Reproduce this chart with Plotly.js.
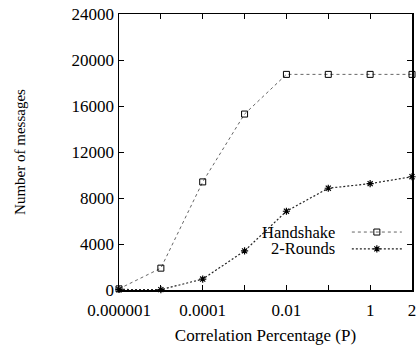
<!DOCTYPE html>
<html>
<head>
<meta charset="utf-8">
<script src="https://cdn.plot.ly/plotly-3.0.1.min.js"></script>
<style>html,body{margin:0;padding:0;background:#fff;}#chart{width:419px;height:346px;}</style>
</head>
<body>
<div id="chart"></div>
<script>
var categories = ["0.000001", "0.00001", "0.0001", "0.001", "0.01", "0.1", "1", "2"];
var tickLabels = ["0.000001", "", "0.0001", "", "0.01", "", "1", "2"];
var handshake = [100, 1900, 9400, 15300, 18750, 18750, 18750, 18750];
var twoRounds = [50, 30, 950, 3400, 6850, 8850, 9250, 9850];
var seriesNames = ["Handshake", "2-Rounds"];

var idx = categories.map(function (c, i) { return i; });
var tv = [], tt = [];
tickLabels.forEach(function (t, i) { tv.push(i); tt.push(t); });

var FAM = "Liberation Serif";
function f(size) { return {family: FAM, size: size, color: "#000"}; }

var traces = [
  {
    x: idx, y: handshake, type: "scatter", mode: "lines+markers", name: " ", legend: "legend",
    line: {color: "#666", width: 1, dash: "dot"},
    marker: {symbol: "square-open", size: 6, color: "#000", line: {width: 1, color: "#000"}},
    cliponaxis: false
  },
  {
    x: idx, y: twoRounds, type: "scatter", mode: "lines+markers", name: " ", legend: "legend2",
    line: {color: "#222", width: 1.2, dash: "2px,2px"},
    marker: {symbol: "asterisk-open", size: 6, color: "#000", line: {width: 1.2, color: "#000"}},
    cliponaxis: false
  }
];

var legBase = {
  x: 0.775, xanchor: "left", yanchor: "middle",
  bgcolor: "rgba(0,0,0,0)", borderwidth: 0, font: f(6), itemwidth: 50
};
var leg1 = Object.assign({}, legBase, {y: 0.21});
var leg2 = Object.assign({}, legBase, {y: 0.149});

var layout = {
  width: 419, height: 346,
  margin: {l: 119, r: 6, t: 14, b: 56},
  paper_bgcolor: "#fff", plot_bgcolor: "#fff",
  font: f(17),
  showlegend: true,
  legend: leg1,
  legend2: leg2,
  annotations: [
    {text: seriesNames[0], xref: "paper", yref: "paper", x: 0.745, y: 0.21, xanchor: "right", yanchor: "middle", showarrow: false, font: f(16.5)},
    {text: seriesNames[1], xref: "paper", yref: "paper", x: 0.745, y: 0.149, xanchor: "right", yanchor: "middle", showarrow: false, font: f(16.5)}
  ],
  xaxis: {
    range: [0, 7], tickmode: "array", tickvals: tv, ticktext: tt,
    ticks: "inside", ticklen: 5, tickwidth: 1, tickcolor: "#000",
    showline: true, linecolor: "#000", linewidth: 1.5, mirror: "ticks",
    showgrid: false, zeroline: false, ticklabelstandoff: 4,
    title: {text: "Correlation Percentage (P)", font: f(17), standoff: 10},
    tickfont: f(17)
  },
  yaxis: {
    range: [0, 24000], tickmode: "linear", tick0: 0, dtick: 4000,
    ticks: "inside", ticklen: 5, tickwidth: 1, tickcolor: "#000",
    showline: true, linecolor: "#000", linewidth: 1.5, mirror: "ticks",
    showgrid: false, zeroline: false,
    title: {text: "Number of messages", font: f(15), standoff: 42},
    tickfont: f(17), tickformat: "d"
  }
};

Plotly.newPlot("chart", traces, layout, {displayModeBar: false, staticPlot: true});
</script>
</body>
</html>
